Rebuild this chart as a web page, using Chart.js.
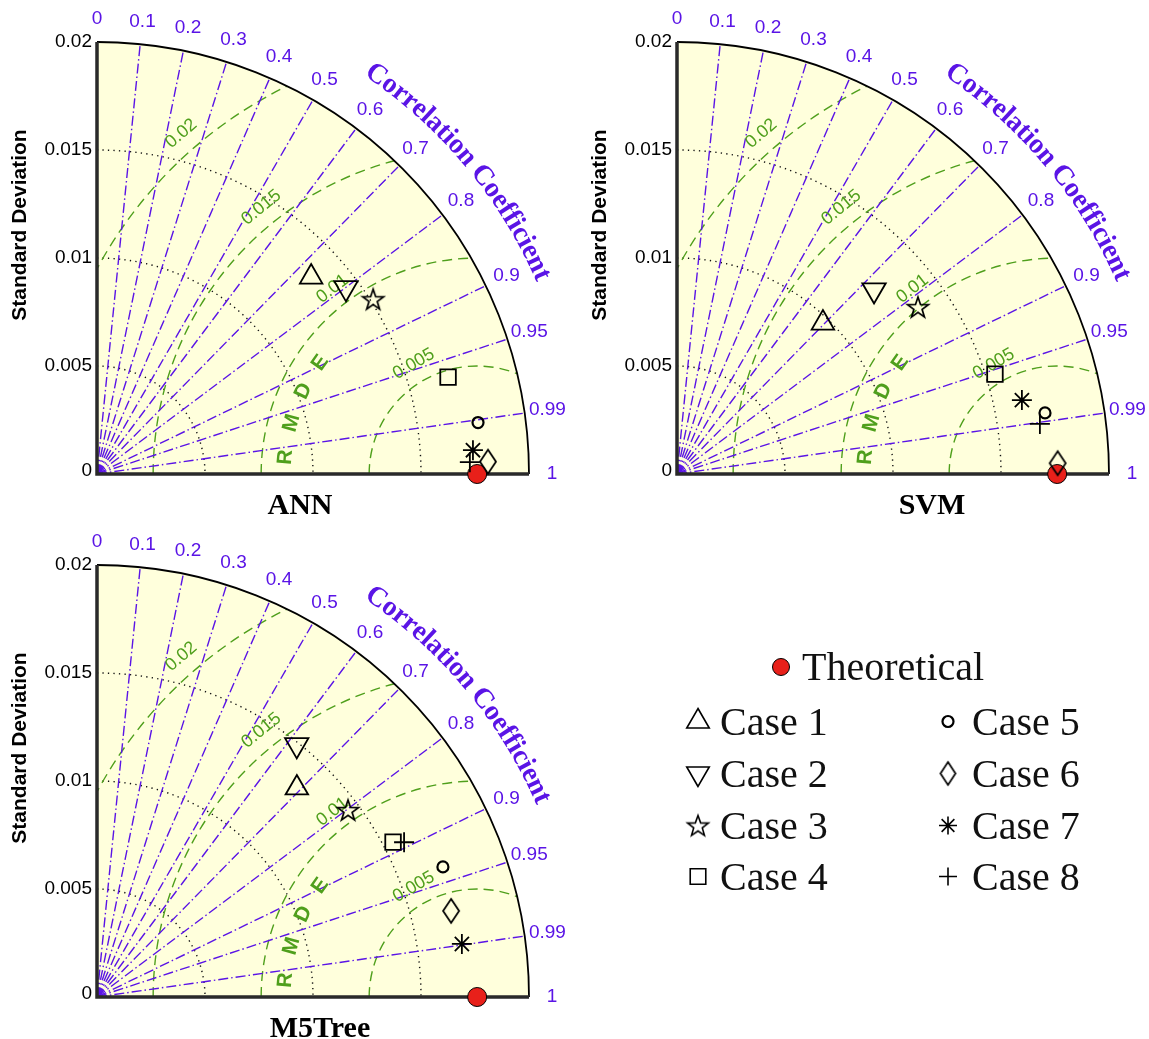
<!DOCTYPE html>
<html>
<head>
<meta charset="utf-8">
<script src="https://cdn.jsdelivr.net/npm/chart.js@4.4.1/dist/chart.umd.min.js"></script>
<style>
  html, body { margin: 0; padding: 0; background: #fff; }
  #page { position: relative; width: 1149px; height: 1039px; overflow: hidden; }
  #page canvas { position: absolute; }
  .lg { position: absolute; font: 40px "Liberation Serif", "Times New Roman", serif; line-height: 40px; color: #111; white-space: nowrap; }
</style>
</head>
<body>
<div id="page">
  <canvas id="ann" width="580" height="525" style="left:0;top:0"></canvas>
  <canvas id="svm" width="569" height="525" style="left:580px;top:0"></canvas>
  <canvas id="m5" width="580" height="517" style="left:0;top:522px"></canvas>
  <canvas id="legend" width="460" height="270" style="left:660px;top:640px"></canvas>
</div>
<script>
// data: standard deviation + correlation per case
const caseLabels = ["Case 1", "Case 2", "Case 3", "Case 4", "Case 5", "Case 6", "Case 7", "Case 8"]
const refLabel = "Theoretical"
const refStd = 0.0176

const annStd  = [0.01347, 0.01439, 0.01513, 0.01686, 0.01780, 0.01811, 0.01744, 0.01727]
const annCorr = [0.736, 0.801, 0.845, 0.964, 0.991, 0.9995, 0.998, 0.9995]
const svmStd  = [0.00972, 0.01248, 0.01357, 0.01543, 0.01727, 0.01763, 0.01633, 0.01696]
const svmCorr = [0.695, 0.731, 0.822, 0.954, 0.9865, 0.9996, 0.9778, 0.9906]
const m5Std   = [0.01339, 0.01489, 0.01449, 0.01547, 0.01711, 0.01687, 0.01707, 0.01592]
const m5Corr  = [0.691, 0.621, 0.802, 0.886, 0.936, 0.9717, 0.9896, 0.893]

const stdTicks = [0, 0.005, 0.01, 0.015, 0.02]
const corrTicks = [0, 0.1, 0.2, 0.3, 0.4, 0.5, 0.6, 0.7, 0.8, 0.9, 0.95, 0.99, 1]
const rmsdLevels = [0.005, 0.01, 0.015, 0.02]
const maxStd = 0.02

const violet = "#5a14e6"
const green = "#4f9f1c"

function toXY(std, corr) {
  return { x: std * corr, y: std * Math.sqrt(Math.max(0, 1 - corr * corr)) }
}

// marker images that chart.js has no built-in style for
function makeStar(rOut, rIn, lw) {
  const size = 2 * rOut + 4
  const c = document.createElement("canvas")
  c.width = c.height = size
  const g = c.getContext("2d")
  g.beginPath()
  for (let i = 0; i < 10; i++) {
    const r = i % 2 ? rIn : rOut
    const a = -Math.PI / 2 + i * Math.PI / 5
    const x = size / 2 + r * Math.cos(a), y = size / 2 + 1 + r * Math.sin(a)
    i ? g.lineTo(x, y) : g.moveTo(x, y)
  }
  g.closePath()
  g.lineWidth = lw
  g.strokeStyle = "#000"
  g.stroke()
  return c
}

function makeDiamond(hw, hh, lw) {
  const c = document.createElement("canvas")
  c.width = 2 * hw + 4
  c.height = 2 * hh + 4
  const g = c.getContext("2d")
  const cx = c.width / 2, cy = c.height / 2
  g.beginPath()
  g.moveTo(cx, cy - hh); g.lineTo(cx + hw, cy); g.lineTo(cx, cy + hh); g.lineTo(cx - hw, cy)
  g.closePath()
  g.lineWidth = lw
  g.strokeStyle = "#000"
  g.stroke()
  return c
}

const starImg = makeStar(11, 4.3, 1.7)
const diamondImg = makeDiamond(8, 12, 1.8)

const caseStyles = [
  { style: "triangle", radius: 13 },
  { style: "triangle", radius: 13.5, rotation: 180 },
  { style: starImg, radius: 11 },
  { style: "rect", radius: 11 },
  { style: "circle", radius: 5.5 },
  { style: diamondImg, radius: 12 },
  { style: "star", radius: 10 },
  { style: "cross", radius: 10 }
]

function arcText(ctx, text, cx, cy, r, midDeg) {
  const chars = [...text]
  const widths = chars.map(ch => ctx.measureText(ch).width)
  const total = widths.reduce((a, b) => a + b, 0)
  let phi = midDeg * Math.PI / 180 + total / 2 / r
  ctx.textAlign = "center"
  ctx.textBaseline = "middle"
  chars.forEach((ch, i) => {
    const a = phi - widths[i] / 2 / r
    ctx.save()
    ctx.translate(cx + r * Math.cos(a), cy - r * Math.sin(a))
    ctx.rotate(Math.PI / 2 - a)
    ctx.fillText(ch, 0, 0)
    ctx.restore()
    phi -= widths[i] / r
  })
}

function rotatedText(ctx, text, x, y, angle) {
  ctx.save()
  ctx.translate(x, y)
  ctx.rotate(angle)
  ctx.fillText(text, 0, 0)
  ctx.restore()
}

const taylorGrid = {
  id: "taylorGrid",
  beforeDatasetsDraw(chart, args, opts) {
    const ctx = chart.ctx
    const xs = chart.scales.x, ys = chart.scales.y
    const ox = xs.getPixelForValue(0), oy = ys.getPixelForValue(0)
    const rad = v => xs.getPixelForValue(v) - ox
    const R = rad(maxStd)
    const refX = xs.getPixelForValue(refStd)
    const deg = Math.PI / 180

    ctx.save()
    ctx.beginPath()
    ctx.moveTo(ox, oy)
    ctx.arc(ox, oy, R, -Math.PI / 2, 0)
    ctx.closePath()
    ctx.fillStyle = "#ffffdc"
    ctx.fill()

    ctx.save()
    ctx.clip()

    // std arcs
    ctx.strokeStyle = "#111"
    ctx.lineWidth = 1.4
    ctx.setLineDash([1.3, 4.2])
    stdTicks.filter(v => v > 0 && v < maxStd).forEach(v => {
      ctx.beginPath()
      ctx.arc(ox, oy, rad(v), -Math.PI / 2, 0)
      ctx.stroke()
    })

    // rmsd contours around the reference point
    ctx.strokeStyle = green
    ctx.lineWidth = 1.4
    ctx.setLineDash([10, 6])
    rmsdLevels.forEach(v => {
      ctx.beginPath()
      ctx.arc(refX, oy, rad(v), Math.PI, 2 * Math.PI)
      ctx.stroke()
    })

    // correlation rays
    ctx.strokeStyle = violet
    ctx.lineWidth = 1.4
    ctx.setLineDash([10, 3, 1.5, 3])
    corrTicks.filter(c => c > 0 && c < 1).forEach(c => {
      const p = toXY(maxStd, c)
      ctx.beginPath()
      ctx.moveTo(ox, oy)
      ctx.lineTo(xs.getPixelForValue(p.x), ys.getPixelForValue(p.y))
      ctx.stroke()
    })
    ctx.restore()
    ctx.setLineDash([])

    // outer arc + axes
    ctx.strokeStyle = "#000"
    ctx.lineWidth = 1.8
    ctx.beginPath()
    ctx.arc(ox, oy, R, -Math.PI / 2, 0)
    ctx.stroke()
    ctx.strokeStyle = "#2a2a2a"
    ctx.lineWidth = 3.5
    ctx.beginPath()
    ctx.moveTo(ox, oy - R)
    ctx.lineTo(ox, oy)
    ctx.lineTo(ox + R, oy)
    ctx.stroke()

    // std tick labels
    ctx.fillStyle = "#000"
    ctx.font = '19px "Liberation Sans", Arial, sans-serif'
    ctx.textAlign = "right"
    ctx.textBaseline = "middle"
    stdTicks.forEach(v => {
      ctx.fillText(String(v), ox - 5, ys.getPixelForValue(v) - (v === 0 ? 3 : 0))
    })

    // correlation tick labels
    ctx.fillStyle = violet
    ctx.textAlign = "center"
    corrTicks.forEach(c => {
      const a = Math.acos(c)
      const r = R + 23
      ctx.fillText(String(c), ox + r * Math.cos(a), oy - r * Math.sin(a))
    })

    // rmsd labels
    ctx.fillStyle = green
    ctx.font = '18px "Liberation Sans", Arial, sans-serif'
    const labelAngles = [120, 128, 129, 131]
    rmsdLevels.forEach((v, i) => {
      const a = labelAngles[i] * deg
      const r = rad(v) + 19
      rotatedText(ctx, String(v), refX + r * Math.cos(a), oy - r * Math.sin(a), Math.PI / 2 - a)
    })
    ctx.font = 'bold 21px "Liberation Sans", Arial, sans-serif'
    const letterAngles = [175, 164.6, 154.5, 144.7]
    ;["R", "M", "D", "E"].forEach((ch, i) => {
      const a = letterAngles[i] * deg
      const r = rad(0.0089)
      rotatedText(ctx, ch, refX + r * Math.cos(a), oy - r * Math.sin(a), Math.PI / 2 - a)
    })

    // curved axis name
    ctx.fillStyle = violet
    ctx.font = 'bold 28px "Liberation Serif", "Times New Roman", serif'
    arcText(ctx, "Correlation Coefficient", ox, oy, R + 55, 39.9)

    // std axis title
    ctx.fillStyle = "#000"
    ctx.font = 'bold 21px "Liberation Sans", Arial, sans-serif'
    ctx.textAlign = "center"
    ctx.textBaseline = "middle"
    rotatedText(ctx, "Standard Deviation", ox - 77, oy - 249, -Math.PI / 2)

    // panel title
    ctx.font = 'bold 30px "Liberation Serif", "Times New Roman", serif'
    ctx.textBaseline = "alphabetic"
    ctx.fillText(opts.title, ox + opts.titleDx, oy + 40)
    ctx.restore()
  }
}

function buildDatasets(stds, corrs) {
  const sets = caseLabels.map((label, i) => ({
    label,
    data: [toXY(stds[i], corrs[i])],
    pointStyle: caseStyles[i].style,
    pointRadius: caseStyles[i].radius,
    pointRotation: caseStyles[i].rotation || 0,
    pointBorderColor: "#000",
    pointBackgroundColor: "rgba(0,0,0,0)",
    pointBorderWidth: caseStyles[i].style === "circle" ? 2.2 : 1.8,
    clip: false
  }))
  sets.push({
    label: refLabel,
    data: [toXY(refStd, 1)],
    pointStyle: "circle",
    pointRadius: 9.5,
    pointBackgroundColor: "#e8201a",
    pointBorderColor: "#000",
    pointBorderWidth: 1,
    clip: false
  })
  return sets
}

function taylorChart(id, stds, corrs, title, titleDx, padding) {
  return new Chart(document.getElementById(id), {
    type: "scatter",
    data: { datasets: buildDatasets(stds, corrs) },
    options: {
      responsive: false,
      animation: false,
      events: [],
      layout: { padding },
      scales: {
        x: { type: "linear", min: 0, max: maxStd, display: false },
        y: { type: "linear", min: 0, max: maxStd, display: false }
      },
      plugins: {
        legend: { display: false },
        tooltip: { enabled: false },
        taylorGrid: { title, titleDx }
      }
    },
    plugins: [taylorGrid]
  })
}

taylorChart("ann", annStd, annCorr, "ANN", 203, { left: 97, top: 42, right: 51, bottom: 51 })
taylorChart("svm", svmStd, svmCorr, "SVM", 255, { left: 97, top: 42, right: 40, bottom: 51 })
taylorChart("m5", m5Std, m5Corr, "M5Tree", 223, { left: 97, top: 43, right: 51, bottom: 42 })

// legend: markers through chart.js' point renderer, labels as html text
const page = document.getElementById("page")
const lg = document.getElementById("legend").getContext("2d")
const drawPoint = Chart.helpers && Chart.helpers.drawPoint
const legendStar = makeStar(11, 4.5, 1.6)
const legendDiamond = makeDiamond(7.5, 11.5, 1.7)
const legendStyles = [
  { style: "triangle", radius: 13 },
  { style: "triangle", radius: 13, rotation: 180 },
  { style: legendStar, radius: 11 },
  { style: "rect", radius: 11 },
  { style: "circle", radius: 5.5 },
  { style: legendDiamond, radius: 11 },
  { style: "star", radius: 9 },
  { style: "cross", radius: 9 }
]
const rowY = [81.5, 133.5, 185.5, 236.5]

function addLabel(text, left, baseline) {
  const d = document.createElement("div")
  d.className = "lg"
  d.textContent = text
  d.style.left = left + "px"
  d.style.top = (baseline - 33.5) + "px"
  page.appendChild(d)
}

if (drawPoint) {
  lg.fillStyle = "#e8201a"
  lg.strokeStyle = "#000"
  lg.lineWidth = 1
  drawPoint(lg, { pointStyle: "circle", radius: 8.5, rotation: 0, borderWidth: 1 }, 121, 27)
  lg.fillStyle = "rgba(0,0,0,0)"
  legendStyles.forEach((s, i) => {
    const x = i < 4 ? 38 : 288
    lg.lineWidth = s.style === "circle" ? 2.2 : 1.6
    drawPoint(lg, { pointStyle: s.style, radius: s.radius, rotation: s.rotation || 0, borderWidth: lg.lineWidth }, x, rowY[i % 4])
  })
}
addLabel(refLabel, 802, 680)
caseLabels.forEach((label, i) => {
  addLabel(label, i < 4 ? 720 : 972, 640 + rowY[i % 4] + 13.5)
})
</script>
</body>
</html>
